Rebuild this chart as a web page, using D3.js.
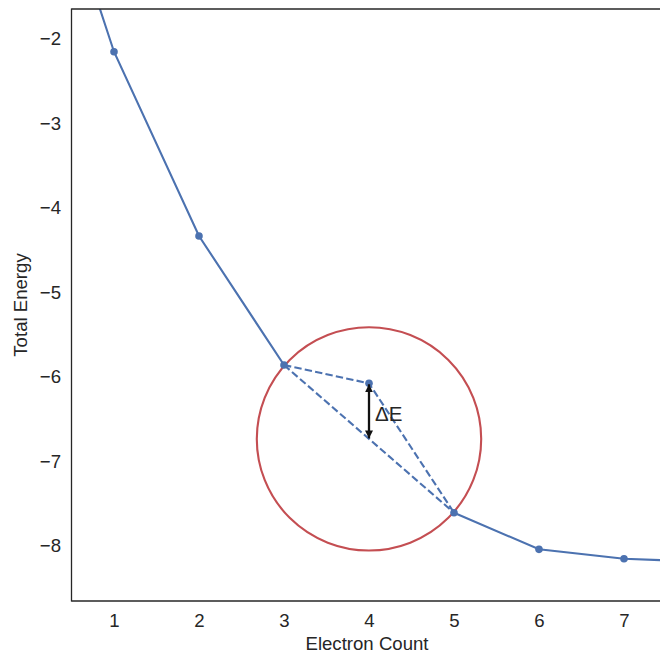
<!DOCTYPE html>
<html>
<head>
<meta charset="utf-8">
<script src="https://cdn.jsdelivr.net/npm/d3@7"></script>
<style>
  html, body { margin: 0; padding: 0; background: #fff; }
  svg { display: block; font-family: "Liberation Sans", Arial, sans-serif; }
</style>
</head>
<body>
<svg id="chart" width="660" height="654"></svg>
<script>
// Total energy as a function of electron count
const electronCount = [0, 1, 2, 3, 4, 5, 6, 7, 8];
const totalEnergy   = [0.9, -2.155, -4.334, -5.86, -6.076, -7.606, -8.039, -8.15, -8.19];
const xTicks = [1, 2, 3, 4, 5, 6, 7];
const yTicks = [-8, -7, -6, -5, -4, -3, -2];
const xDomain = [0.5, 7.5];
const yDomain = [-8.65, -1.65];
const gapIndex = 4;          // point reached only through the dashed construction
const bracket = [3, 4, 5];   // electron counts of the dashed triangle
const circleRadius = 1.32;   // in data units
const xLabel = "Electron Count";
const yLabel = "Total Energy";
const deltaLabel = "ΔE";

const blue = "#4c72b0", red = "#c44e52", ink = "#262626";
const fontSize = 18.6;

const svg = d3.select("#chart");
const plotLeft = 71.5, plotRight = 666.5, plotTop = 9, plotBottom = 601;

const x = d3.scaleLinear().domain(xDomain).range([plotLeft, plotRight]);
const y = d3.scaleLinear().domain(yDomain).range([plotBottom, plotTop]);

const defs = svg.append("defs");
defs.append("clipPath").attr("id", "plot")
  .append("rect").attr("x", plotLeft).attr("y", plotTop)
  .attr("width", plotRight - plotLeft).attr("height", plotBottom - plotTop);

const pts = electronCount.map((n, i) => ({n, e: totalEnergy[i], i}));

const g = svg.append("g").attr("clip-path", "url(#plot)");

// straight-line interpolation between N=3 and N=5 and the mid-point
const e3 = totalEnergy[electronCount.indexOf(bracket[0])];
const e4 = totalEnergy[electronCount.indexOf(bracket[1])];
const e5 = totalEnergy[electronCount.indexOf(bracket[2])];
const eMid = (e3 + e5) / 2;

// red highlight circle
g.append("ellipse")
  .attr("cx", x(bracket[1])).attr("cy", y(eMid))
  .attr("rx", x(circleRadius) - x(0)).attr("ry", y(0) - y(circleRadius))
  .attr("fill", "none").attr("stroke", red).attr("stroke-width", 2.1);

const line = d3.line().x(d => x(d.n)).y(d => y(d.e));

// solid curve, broken at the gap point
g.append("path")
  .datum(pts)
  .attr("d", line.defined(d => d.i !== gapIndex))
  .attr("fill", "none").attr("stroke", blue).attr("stroke-width", 2.1);

// dashed triangle
const dashLine = d3.line().x(d => x(d.n)).y(d => y(d.e));
g.append("path")
  .datum([{n: bracket[0], e: e3}, {n: bracket[1], e: e4}, {n: bracket[2], e: e5}])
  .attr("d", dashLine)
  .attr("fill", "none").attr("stroke", blue).attr("stroke-width", 2.1)
  .attr("stroke-dasharray", "7.4,3.2");
g.append("path")
  .datum([{n: bracket[0], e: e3}, {n: bracket[2], e: e5}])
  .attr("d", dashLine)
  .attr("fill", "none").attr("stroke", blue).attr("stroke-width", 2.1)
  .attr("stroke-dasharray", "7.4,3.2");

// markers
g.selectAll("circle.pt").data(pts).join("circle")
  .attr("class", "pt")
  .attr("cx", d => x(d.n)).attr("cy", d => y(d.e)).attr("r", 3.8)
  .attr("fill", blue);

// double-headed arrow for the energy difference
defs.append("marker").attr("id", "head")
  .attr("viewBox", "0 0 10 10").attr("refX", 10).attr("refY", 5)
  .attr("markerWidth", 8).attr("markerHeight", 8)
  .attr("markerUnits", "userSpaceOnUse").attr("orient", "auto-start-reverse")
  .append("path").attr("d", "M0,0 L10,5 L0,10 z").attr("fill", "#111");

svg.append("line")
  .attr("x1", x(bracket[1])).attr("x2", x(bracket[1]))
  .attr("y1", y(e4) + 1).attr("y2", y(eMid) - 0.5)
  .attr("stroke", "#111").attr("stroke-width", 2.3)
  .attr("marker-start", "url(#head)").attr("marker-end", "url(#head)");

svg.append("text")
  .attr("x", x(bracket[1]) + 6).attr("y", (y(e4) + y(eMid)) / 2 + 10)
  .attr("font-size", 20.5).attr("fill", ink)
  .text(deltaLabel);

// axes
const xAxis = svg.append("g").attr("transform", `translate(0,${plotBottom})`)
  .call(d3.axisBottom(x).tickValues(xTicks).tickSize(0).tickPadding(12.5).tickFormat(d3.format("d")));
const yAxis = svg.append("g").attr("transform", `translate(${plotLeft},0)`)
  .call(d3.axisLeft(y).tickValues(yTicks).tickSize(0).tickPadding(10.5).tickFormat(d3.format("d")));
[xAxis, yAxis].forEach(a => {
  a.select(".domain").remove();
  a.attr("font-size", fontSize).attr("font-family", "'Liberation Sans', Arial, sans-serif");
  a.selectAll("text").attr("fill", ink);
});

// spines
const spine = (x1, y1, x2, y2) => svg.append("line")
  .attr("x1", x1).attr("y1", y1).attr("x2", x2).attr("y2", y2)
  .attr("stroke", ink).attr("stroke-width", 1.3);
spine(plotLeft, plotTop - 0.6, plotLeft, plotBottom + 0.6);
spine(plotLeft, plotBottom, plotRight, plotBottom);
spine(plotLeft, plotTop, plotRight, plotTop);
spine(plotRight, plotTop, plotRight, plotBottom);

// axis titles
svg.append("text")
  .attr("x", (plotLeft + plotRight) / 2 - 2).attr("y", 649.5)
  .attr("text-anchor", "middle").attr("font-size", fontSize).attr("fill", ink)
  .text(xLabel);
svg.append("text")
  .attr("transform", `translate(26.5,${(plotTop + plotBottom) / 2}) rotate(-90)`)
  .attr("text-anchor", "middle").attr("font-size", fontSize).attr("fill", ink)
  .text(yLabel);
</script>
</body>
</html>
